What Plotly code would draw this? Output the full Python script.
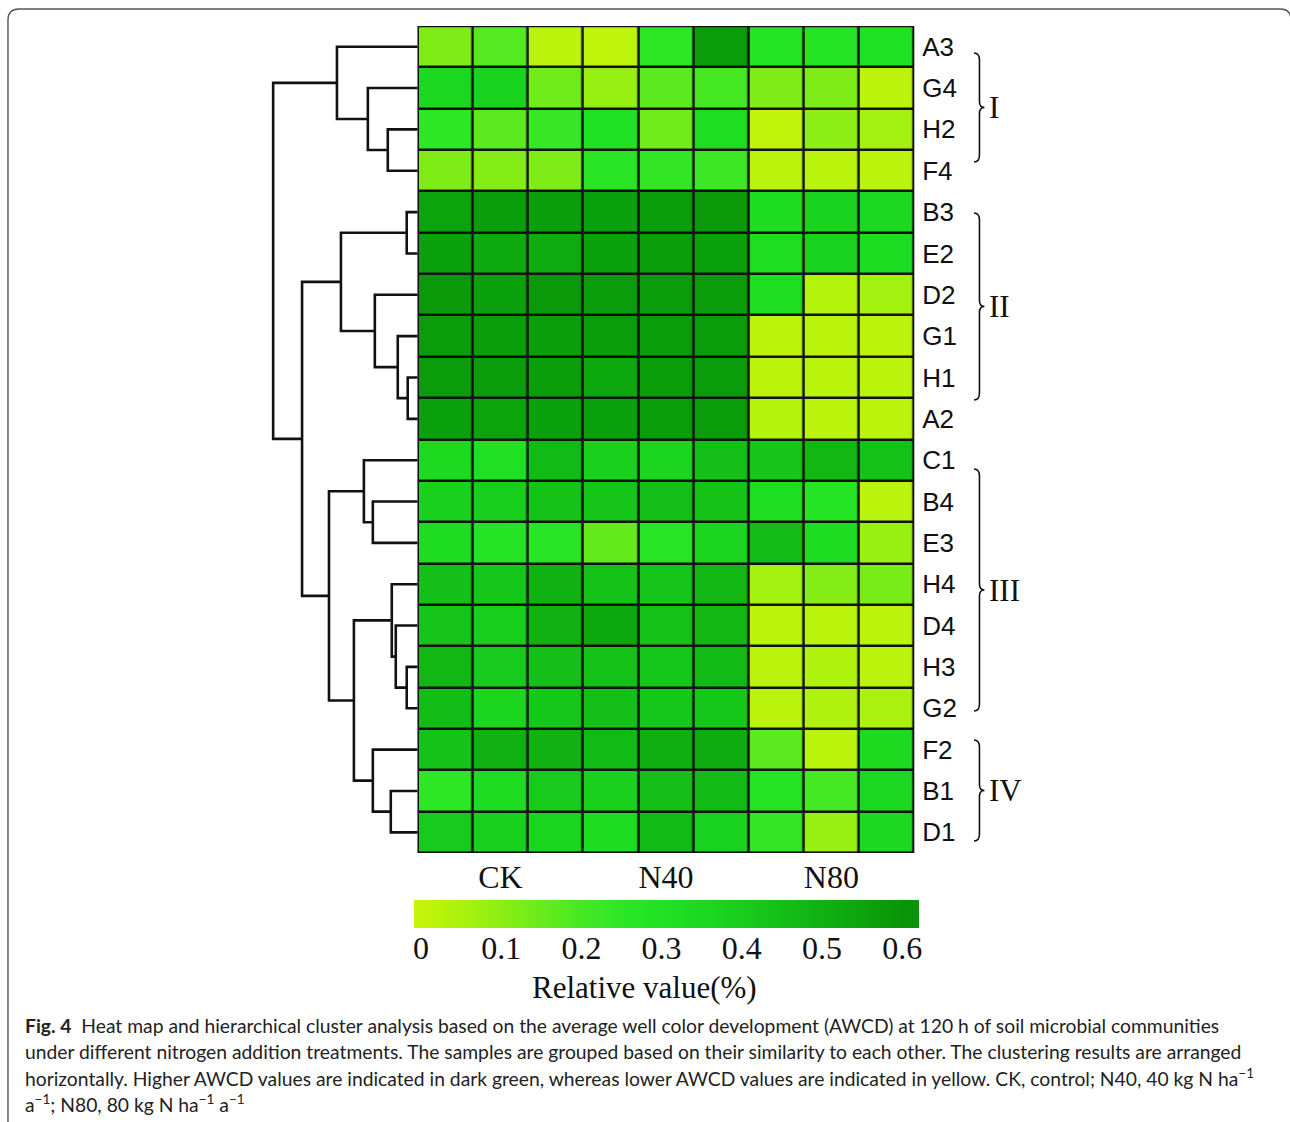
import plotly.graph_objects as go

W, H = 1290, 1122

# ---------------- data ----------------
samples = ["A3", "G4", "H2", "F4", "B3", "E2", "D2", "G1", "H1", "A2",
           "C1", "B4", "E3", "H4", "D4", "H3", "G2", "F2", "B1", "D1"]
treatments = ["CK", "N40", "N80"]
colorbar_ticks = [0, 0.1, 0.2, 0.3, 0.4, 0.5, 0.6]
cluster_names = ["I", "II", "III", "IV"]

# relative AWCD value, 9 columns (3 replicates x CK, N40, N80)
A3 = [0.12, 0.18, 0.02, 0.01, 0.25, 0.58, 0.28, 0.28, 0.30]
G4 = [0.35, 0.37, 0.14, 0.08, 0.17, 0.20, 0.12, 0.12, 0.02]
H2 = [0.25, 0.17, 0.23, 0.30, 0.14, 0.32, 0.01, 0.10, 0.06]
F4 = [0.12, 0.11, 0.12, 0.27, 0.24, 0.22, 0.02, 0.02, 0.02]
B3 = [0.55, 0.57, 0.57, 0.56, 0.57, 0.59, 0.33, 0.37, 0.35]
E2 = [0.56, 0.53, 0.52, 0.56, 0.58, 0.56, 0.32, 0.37, 0.33]
D2 = [0.59, 0.56, 0.59, 0.58, 0.58, 0.58, 0.32, 0.03, 0.06]
G1 = [0.58, 0.57, 0.57, 0.58, 0.58, 0.58, 0.02, 0.02, 0.02]
H1 = [0.58, 0.58, 0.57, 0.54, 0.57, 0.58, 0.02, 0.02, 0.02]
A2 = [0.56, 0.55, 0.56, 0.56, 0.57, 0.58, 0.03, 0.02, 0.02]
C1 = [0.34, 0.31, 0.47, 0.38, 0.36, 0.45, 0.43, 0.48, 0.44]
B4 = [0.38, 0.40, 0.44, 0.43, 0.45, 0.44, 0.32, 0.28, 0.02]
E3 = [0.33, 0.28, 0.26, 0.16, 0.26, 0.36, 0.46, 0.33, 0.08]
H4 = [0.45, 0.42, 0.50, 0.44, 0.43, 0.48, 0.06, 0.11, 0.13]
D4 = [0.43, 0.40, 0.50, 0.54, 0.44, 0.48, 0.02, 0.02, 0.02]
H3 = [0.48, 0.41, 0.45, 0.44, 0.42, 0.47, 0.02, 0.04, 0.02]
G2 = [0.46, 0.36, 0.42, 0.45, 0.42, 0.42, 0.02, 0.04, 0.05]
F2 = [0.44, 0.50, 0.50, 0.47, 0.51, 0.52, 0.17, 0.02, 0.34]
B1 = [0.25, 0.33, 0.41, 0.38, 0.45, 0.47, 0.28, 0.20, 0.35]
D1 = [0.41, 0.38, 0.36, 0.33, 0.47, 0.37, 0.24, 0.08, 0.35]

# hierarchical clustering linkage: (child a, child b, height); indices < 20 are leaves
linkage = [
    (8, 9, 10), (4, 5, 11), (15, 16, 11), (7, 20, 20), (14, 22, 22),
    (13, 24, 26), (18, 19, 27), (2, 3, 30), (6, 23, 43), (11, 12, 45),
    (17, 26, 45), (1, 27, 50), (10, 29, 54), (25, 30, 64), (21, 28, 77),
    (0, 31, 81), (32, 33, 89), (34, 36, 116), (35, 37, 145),
]

# ---------------- helpers ----------------
def px(x):
    return x / W


def py(y):
    return 1 - y / H


z = [A3, G4, H2, F4, B3, E2, D2, G1, H1, A2, C1, B4, E3, H4, D4, H3, G2, F2, B1, D1]
ZMIN, ZMAX = -0.009, 0.621

stops = [(0.0, (196, 244, 10)), (0.05, (170, 242, 14)), (0.1, (140, 238, 20)),
         (0.15, (105, 235, 28)), (0.2, (70, 232, 35)), (0.25, (45, 230, 38)),
         (0.3, (32, 226, 36)), (0.4, (24, 205, 28)), (0.5, (16, 178, 18)),
         (0.6, (8, 150, 8))]
colorscale = []
for i, (v, c) in enumerate(stops):
    f = (v - ZMIN) / (ZMAX - ZMIN)
    if i == 0:
        colorscale.append([0.0, "rgb(%d,%d,%d)" % c])
    colorscale.append([f, "rgb(%d,%d,%d)" % c])
colorscale.append([1.0, "rgb(%d,%d,%d)" % stops[-1][1]])

fig = go.Figure()

fig.add_trace(go.Heatmap(
    z=z, x=list(range(9)), y=list(range(len(samples))),
    zmin=ZMIN, zmax=ZMAX, colorscale=colorscale,
    xgap=2.5, ygap=2.5, hoverinfo="skip",
    colorbar=dict(
        orientation="h", x=px(667.5), xanchor="center", len=507 / W, lenmode="fraction",
        y=py(900), yanchor="top", thickness=28, xpad=0, ypad=0,
        outlinewidth=0, ticks="", showticklabels=False,
    ),
))

# dendrogram from linkage
n = len(samples)
pos = {i: (float(i), 0.0) for i in range(n)}
dx, dy = [], []
for k, (a, b, h) in enumerate(linkage):
    ya, ha = pos[a]
    yb, hb = pos[b]
    dx += [ha, h, h, hb, None]
    dy += [ya, ya, yb, yb, None]
    pos[n + k] = ((ya + yb) / 2, h)

fig.add_trace(go.Scatter(x=dx, y=dy, xaxis="x2", yaxis="y", mode="lines",
                         line=dict(color="#111", width=2.6), hoverinfo="skip",
                         showlegend=False))

# invisible carrier trace for the colour-bar value axis (own small subplot)
fig.add_trace(go.Scatter(x=[ZMIN, ZMAX], y=[0, 0], xaxis="x3", yaxis="y2", mode="markers",
                         marker=dict(opacity=0), hoverinfo="skip", showlegend=False))

shapes = [
    dict(type="rect", xref="x", yref="y", x0=-0.5, x1=8.5, y0=-0.5, y1=n - 0.5,
         fillcolor="#111", line=dict(color="#111", width=2.5), layer="below"),
    dict(type="rect", xref="x", yref="y", x0=-0.5, x1=8.5, y0=-0.5, y1=n - 0.5,
         fillcolor="rgba(0,0,0,0)", line=dict(color="#111", width=2.5), layer="above"),
]

# frame
fr = "M %f,%f L %f,%f Q %f,%f %f,%f L %f,%f Q %f,%f %f,%f L %f,%f" % (
    px(7), py(1130), px(7), py(20), px(7), py(9), px(18), py(9),
    px(1283), py(9), px(1294), py(9), px(1294), py(20), px(1294), py(1130))
shapes.append(dict(type="path", xref="paper", yref="paper", path=fr,
                   line=dict(color="#555", width=1.4)))

# braces
brace_spans = [(53, 162), (213, 400), (469, 711), (740, 841)]
annotations = []
for (y0, y1), name in zip(brace_spans, cluster_names):
    xt, xs, xp = 976.0, 981.5, 986.5
    ym = (y0 + y1) / 2
    p = ("M {a},{b} Q {c},{b} {c},{d} L {c},{e} Q {c},{f} {g},{f} "
         "Q {c},{f} {c},{h} L {c},{i} Q {c},{j} {a},{j}").format(
        a=px(xt), b=py(y0), c=px(xs), d=py(y0 + 7), e=py(ym - 6), f=py(ym),
        g=px(xp), h=py(ym + 6), i=py(y1 - 7), j=py(y1))
    shapes.append(dict(type="path", xref="paper", yref="paper", path=p,
                       line=dict(color="#111", width=1.6)))
    annotations.append(dict(x=px(989), y=py(ym), xref="paper", yref="paper",
                            text=name, showarrow=False, xanchor="left", yanchor="middle",
                            font=dict(family="Liberation Serif", size=31, color="#111")))

annotations.append(dict(x=px(645), y=py(987), xref="paper", yref="paper",
                        text="Relative value(%)", showarrow=False, xanchor="center",
                        yanchor="middle",
                        font=dict(family="Liberation Serif", size=31, color="#111")))

caption = [
    "<b>Fig. 4</b>  Heat map and hierarchical cluster analysis based on the average well color development (AWCD) at 120 h of soil microbial communities",
    "under different nitrogen addition treatments. The samples are grouped based on their similarity to each other. The clustering results are arranged",
    "horizontally. Higher AWCD values are indicated in dark green, whereas lower AWCD values are indicated in yellow. CK, control; N40, 40 kg N ha<sup>\u22121</sup>",
    "a<sup>\u22121</sup>; N80, 80 kg N ha<sup>\u22121</sup> a<sup>\u22121</sup>",
]
for i, line in enumerate(caption):
    annotations.append(dict(x=px(22), y=py(1025 + 26 * i), xref="paper", yref="paper",
                            text=line, showarrow=False, xanchor="left", yanchor="middle",
                            font=dict(family="Lato", size=19.3, color="#222")))

fig.update_layout(
    width=W, height=H, margin=dict(l=0, r=0, t=0, b=0),
    paper_bgcolor="white", plot_bgcolor="rgba(0,0,0,0)",
    xaxis=dict(domain=[px(418), px(916)], range=[-0.5, 8.5],
               tickvals=[1, 4, 7], ticktext=treatments, ticks="", showgrid=False,
               zeroline=False, showline=False, ticklabelstandoff=2,
               tickfont=dict(family="Liberation Serif", size=32, color="#111")),
    yaxis=dict(domain=[py(853), py(26)], range=[n - 0.5, -0.5], side="right",
               tickvals=list(range(n)), ticktext=samples, ticks="", showgrid=False,
               zeroline=False, showline=False, ticklabelstandoff=7,
               tickfont=dict(family="Liberation Sans", size=26, color="#111")),
    xaxis2=dict(domain=[px(263), px(418)], range=[155, 0], anchor="y",
                visible=False, showgrid=False, zeroline=False),
    xaxis3=dict(domain=[px(414), px(921)], range=[ZMIN, ZMAX], anchor="y2",
                side="bottom", tickvals=colorbar_ticks,
                ticktext=[("%g" % t) for t in colorbar_ticks], ticks="",
                showgrid=False, zeroline=False, showline=False, ticklabelstandoff=0,
                tickfont=dict(family="Liberation Serif", size=32, color="#111")),
    yaxis2=dict(domain=[py(926), py(900)], anchor="x3", visible=False,
                showgrid=False, zeroline=False),
    shapes=shapes, annotations=annotations, showlegend=False,
)

fig.write_html("out.html", config={"displayModeBar": False},
               post_script="document.body.style.margin='0px';")
